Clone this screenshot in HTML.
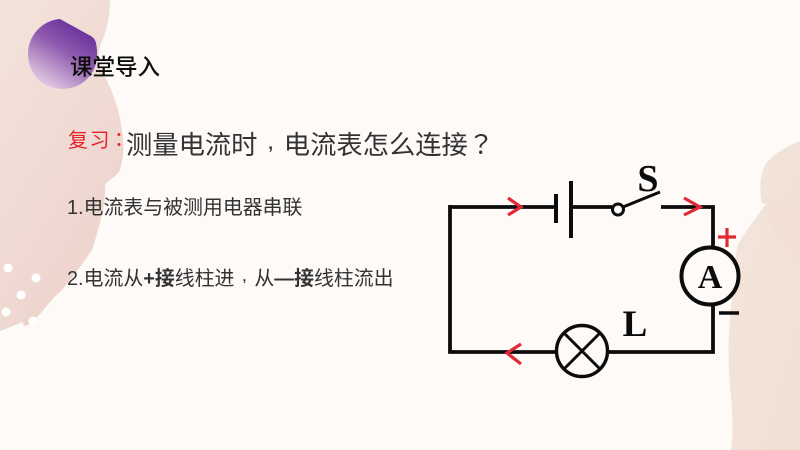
<!DOCTYPE html>
<html lang="zh-CN">
<head>
<meta charset="utf-8">
<title>课堂导入</title>
<style>
html,body{margin:0;padding:0;background:#fdfaf8}
#p{position:relative;width:800px;height:450px;overflow:hidden;background:#fdfaf8;font-family:"Liberation Sans","Noto Sans CJK SC",sans-serif;color:#222}
#p svg{position:absolute;left:0;top:0}
.t{position:absolute;white-space:nowrap;line-height:1;filter:blur(.35px)}
.c{font-family:"Noto Sans CJK TC",sans-serif}
.d{display:inline-block;width:1em;text-align:center;position:relative}
.d i{font-style:normal;font-size:.65em;font-weight:700;position:relative;top:-.3em}
.b{font-weight:700}
</style>
</head>
<body>
<div id="p">
<svg width="800" height="450" viewBox="0 0 800 450">
<defs>
<linearGradient id="l" x1="0" y1="0" x2="0.6" y2="1">
<stop offset="0" stop-color="#f3e2dc"/>
<stop offset=".55" stop-color="#f0dbd4"/>
<stop offset="1" stop-color="#edd3cc"/>
</linearGradient>
<linearGradient id="r" x1="0" y1="0" x2="1" y2="1">
<stop offset="0" stop-color="#f3e5db"/>
<stop offset="1" stop-color="#f0e0d4"/>
</linearGradient>
<linearGradient id="v" x1="0.8" y1="0.05" x2="0.25" y2="0.95">
<stop offset="0" stop-color="#64289a"/>
<stop offset=".45" stop-color="#8e5aae"/>
<stop offset="1" stop-color="#e2c8e2"/>
</linearGradient>
</defs>
<path fill="url(#l)" d="M0 0H110C110 18 106 32 101 44C98 52 97 62 102 72C112 88 121 112 123 140C124 155 122 165 119 172C114 178 106 182 105 186C106 200 101 222 92 250C84 262 72 278 60 292C50 300 46 308 38 316C34 322 28 326 24 326L22 322C16 325 8 328 0 331Z"/>
<path fill="url(#r)" d="M800 141C785 147 770 156 765 165C760 176 759 190 762 203L800 215Z"/>
<path fill="#f1e0d3" d="M800 204C785 203 770 204 764 206C767 225 775 245 800 262Z"/>
<path fill="url(#r)" d="M800 215V450H731C734 430 732 405 730 385C727 350 729 320 733 290C735 265 736 250 738 244C745 232 755 220 764 206C768 222 778 245 800 262Z"/>
<path fill="url(#v)" d="M60 19L89 35C93 37 95 39 96 43C99 58 96 71 86 80C75 90 60 91 48 86C36 81 28 68 28 54C28 35 43 20 60 19Z"/>
<g fill="#fff">
<circle cx="8" cy="268" r="4.500"/>
<circle cx="36" cy="278" r="4.500"/>
<circle cx="21" cy="295" r="4.500"/>
<circle cx="6" cy="312" r="4.500"/>
<circle cx="33" cy="321" r="4.500"/>
</g>
<g fill="none" stroke="#0c0c0c" stroke-width="3.800">
<path d="M450 207H556M571 207H612M661 207H713V248M713 304V352H450V205"/>
<path d="M556 194V223" stroke-width="4"/>
<path d="M571 181V238" stroke-width="4"/>
<circle cx="618" cy="209.500" r="5.500" stroke-width="3"/>
<path d="M623 207L660 192" stroke-width="3"/>
<circle cx="710" cy="276" r="28.500" stroke-width="4" fill="#fdfaf8"/>
<circle cx="582" cy="351" r="25.500" stroke-width="3.400" fill="#fdfaf8"/>
<path d="M564 333L600 369M600 333L564 369" stroke-width="3"/>
<path d="M719 313H739" stroke-width="3.400"/>
</g>
<g fill="none" stroke="#e02a36" stroke-width="3.200">
<path d="M508 198L521 207L508 215"/>
<path d="M684 198L700 207L684 215"/>
<path d="M521 344L507 353L521 364"/>
<path d="M718 237H736M727 228V247"/>
</g>
<g font-family="Liberation Serif,serif" font-weight="700" fill="#0c0c0c" text-anchor="middle">
<text x="648" y="191" font-size="38">S</text>
<text x="635" y="336" font-size="37">L</text>
<text x="710" y="288" font-size="34">A</text>
</g>
</svg>
<div class="t" style="left:70px;top:57px;font-size:22.500px;font-weight:500;color:#0c0c0c">课堂导入</div>
<div class="t" style="left:68px;top:129px;font-size:20px;letter-spacing:1.500px;color:#e8202a">复习<span class="c" lang="zh-TW" style="margin-left:-2px">：</span></div>
<div class="t" style="left:126px;top:130px;font-size:26.300px;color:#333">测量电流时<span class="d"><i>,</i></span>电流表怎么连接<span class="c" lang="zh-TW">？</span></div>
<div class="t" style="left:67px;top:199px;font-size:19.900px;color:#333">1.电流表与被测用电器串联</div>
<div class="t" style="left:67px;top:270px;font-size:19.900px;color:#333">2.电流从<span class="b">+接</span>线柱进<span class="d"><i>,</i></span>从<span class="b">—接</span>线柱流出</div>
</div>
</body>
</html>
